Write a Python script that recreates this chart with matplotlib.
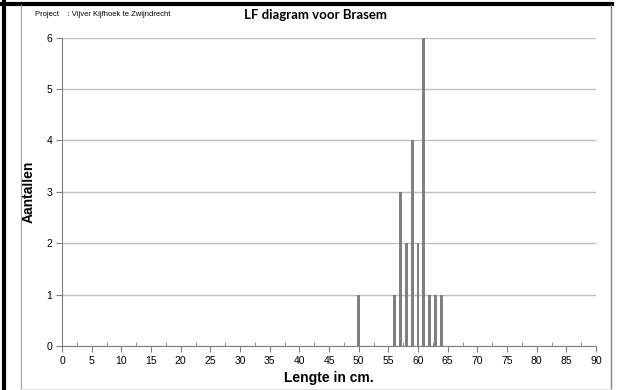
import matplotlib
matplotlib.use('Agg')
import matplotlib.pyplot as plt
from matplotlib.lines import Line2D

plt.rcParams['font.family'] = ['Liberation Sans', 'DejaVu Sans']

# data
lengths = [50, 56, 57, 58, 59, 60, 61, 62, 63, 64]
counts = [1, 1, 3, 2, 4, 2, 6, 1, 1, 1]
x_ticks = list(range(0, 95, 5))
y_ticks = list(range(0, 7))

W, H = 619, 390
fig = plt.figure(figsize=(W / 100, H / 100), dpi=100)
ax = fig.add_axes([62 / W, 1 - 346 / H, (596 - 62) / W, (346 - 37.5) / H])

ax.bar(lengths, counts, width=0.5, color='#808080', zorder=3)

ax.set_xlim(0, 90)
ax.set_ylim(0, 6)
ax.set_xticks(x_ticks)
ax.set_xticks([x + 2.5 for x in x_ticks[:-1]], minor=True)
ax.set_yticks(y_ticks)
ax.tick_params(axis='both', labelsize=7.5, color='#808080', length=4, width=0.8, pad=3)
ax.tick_params(axis='x', which='minor', direction='in', length=3, color='#808080')
ax.yaxis.grid(True, color='#c0c0c0', linewidth=1)
ax.set_axisbelow(True)
for s in ['top', 'right']:
    ax.spines[s].set_visible(False)
for s in ['left', 'bottom']:
    ax.spines[s].set_color('#808080')

ax.set_ylabel('Aantallen', fontsize=10, fontweight='bold', labelpad=8)
ax.set_xlabel('Lengte in cm.', fontsize=10, fontweight='bold', labelpad=4)

fig.text(35 / W, 1 - 15 / H, 'Project    : Vijver Kijfhoek te Zwijndrecht', fontsize=5.5, va='center')
fig.text(315 / W, 1 - 15 / H, 'LF diagram voor Brasem', fontsize=9.5, fontweight='bold',
         family=['Lato', 'DejaVu Sans'], ha='center', va='center')

# page frame
def px_line(x0, y0, x1, y1, color, lw):
    fig.add_artist(Line2D([x0 / W, x1 / W], [1 - y0 / H, 1 - y1 / H],
                          transform=fig.transFigure, color=color, linewidth=lw))

px_line(4, 0, 4, H, 'black', 3)
px_line(0, 3.5, 612, 3.5, 'black', 3)
px_line(20.5, 5, 20.5, H, '#a0a0a0', 0.8)
px_line(611, 5, 611, H, '#808080', 1)
px_line(20, 388.5, 611, 388.5, '#e0e0e0', 0.8)

fig.savefig('out.png', dpi=100)
